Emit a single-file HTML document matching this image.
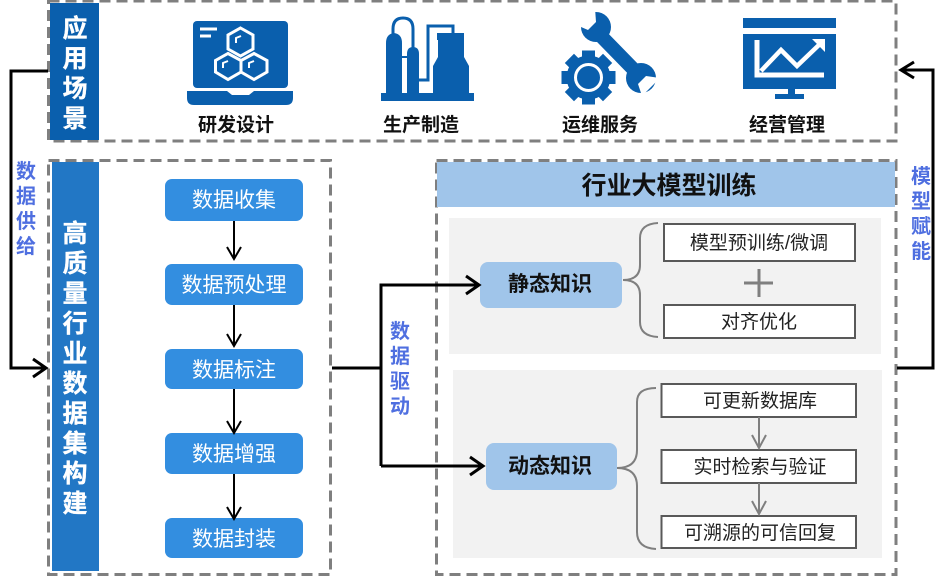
<!DOCTYPE html>
<html><head><meta charset="utf-8">
<style>
html,body{margin:0;padding:0;background:#fff;width:944px;height:577px;overflow:hidden}
svg{display:block}
text{font-family:"Liberation Sans","Noto Sans CJK SC",sans-serif;text-anchor:middle}
.b{font-weight:700}
.side{font-size:25px;font-weight:700;fill:#fff;stroke:#fff;stroke-width:.3}
.lab{font-size:20px;font-weight:700;fill:#4f6fe0}
.node{font-size:21px;fill:#fff}
.cap{font-size:19px;font-weight:700;fill:#111}
.item{font-size:19px;fill:#222}
.dash{fill:none;stroke:#7f7f7f;stroke-width:3;stroke-dasharray:11 6}
.box{fill:#fff;stroke:#595959;stroke-width:2}
.blk{fill:none;stroke:#000;stroke-width:3}
.gr{fill:none;stroke:#7f7f7f;stroke-width:2}
</style></head><body>
<svg width="944" height="577" viewBox="0 0 944 577" xmlns="http://www.w3.org/2000/svg">
<rect width="944" height="577" fill="#fff"/>

<!-- Top panel -->
<rect x="48.5" y="1" width="847.500" height="140" class="dash"/>
<rect x="50" y="3" width="49" height="137" fill="#0a5fad"/>
<g class="side">
<text x="75" y="37">应</text><text x="75" y="67">用</text><text x="75" y="97">场</text><text x="75" y="127">景</text>
</g>

<!-- Laptop icon -->
<g fill="#0a5fad">
<rect x="193" y="21" width="95" height="67" rx="4"/>
<path d="M187 91H227L232 95H249L254 91H293V98Q293 105 286 105H194Q187 105 187 98Z"/>
</g>
<g fill="none" stroke="#fff" stroke-width="3">
<path d="M200 29H217M200 36H211"/>
<path d="M240.500 28L253 35V49L240.500 56L228 49V35Z"/>
<path d="M228 53.500L241 60.500V72L228 79.500L215.500 72V60.500Z"/>
<path d="M254 53.500L267 60.500V72L254 79.500L241 72V60.500Z"/>
<path d="M236 43V38L241 36M223 68V63L228 61M249 68V63L254 61" stroke-width="2"/>
</g>

<!-- Plant icon -->
<g fill="#0a5fad">
<rect x="381" y="93" width="93" height="8"/>
<path d="M386 93V43Q386 34 394 33Q402 34 402 43V93Z"/>
<path d="M407 93V54Q407 47 413 47Q419 47 419 54V93Z"/>
<path d="M433 93V66L438 57V40H464V57L469 66V93Z"/>
<rect x="437" y="33" width="27" height="7"/>
</g>
<g fill="none" stroke="#0a5fad" stroke-width="3">
<path d="M393 34V29Q393 18 403 18Q413 18 413 29V48"/>
<path d="M419 80H428V26H453V34"/>
<path d="M402 57H407" stroke-width="2"/>
</g>

<!-- Wrench + gear icon -->
<path d="M600 35L640 76" fill="none" stroke="#0a5fad" stroke-width="14"/>
<circle cx="596" cy="27" r="15" fill="#0a5fad"/>
<circle cx="641" cy="78" r="15" fill="#0a5fad"/>
<path d="M595 8L574 24L588 30L596 22Z" fill="#fff"/>
<path d="M660 78L642 96L638 84L646 76Z" fill="#fff"/>
<g stroke="#0a5fad" stroke-width="13" fill="none">
<path d="M588.500 50.500V104.500M561.500 77.500H615.500M569.400 58.400L607.600 96.600M607.600 58.400L569.400 96.600"/>
</g>
<circle cx="588.500" cy="77.500" r="22" fill="#0a5fad"/>
<circle cx="588.500" cy="77.500" r="13" fill="#0a5fad" stroke="#fff" stroke-width="3"/>

<!-- Monitor icon -->
<g fill="#0a5fad">
<rect x="743" y="18" width="93" height="10"/>
<rect x="743" y="34" width="93" height="55"/>
<rect x="788" y="89" width="7" height="6"/>
<rect x="775" y="94" width="29" height="5"/>
</g>
<g fill="none" stroke="#fff" stroke-width="5">
<path d="M757 40V75H824"/>
<path d="M761 71L781 50L797 66L821 43" stroke-width="4.500"/>
</g>
<path d="M812 39H825V52Z" fill="#fff"/>

<g class="cap">
<text x="236" y="131">研发设计</text>
<text x="421" y="131">生产制造</text>
<text x="600" y="131">运维服务</text>
<text x="787" y="131">经营管理</text>
</g>

<!-- Left panel -->
<rect x="48.5" y="160.500" width="282" height="414" class="dash"/>
<rect x="52" y="162" width="47" height="409" fill="#2277c5"/>
<g class="side">
<text x="75" y="242">高</text><text x="75" y="272">质</text><text x="75" y="302">量</text><text x="75" y="332">行</text><text x="75" y="362">业</text><text x="75" y="392">数</text><text x="75" y="422">据</text><text x="75" y="452">集</text><text x="75" y="482">构</text><text x="75" y="512">建</text>
</g>
<g fill="#338ee0">
<rect x="165" y="179" width="138" height="42" rx="7"/>
<rect x="165" y="264" width="138" height="41" rx="7"/>
<rect x="165" y="349" width="138" height="40" rx="7"/>
<rect x="165" y="433" width="138" height="41" rx="7"/>
<rect x="165" y="518" width="138" height="40" rx="7"/>
</g>
<g class="node">
<text x="234" y="207">数据收集</text>
<text x="234" y="292">数据预处理</text>
<text x="234" y="377">数据标注</text>
<text x="234" y="461">数据增强</text>
<text x="234" y="546">数据封装</text>
</g>
<g fill="none" stroke="#000" stroke-width="2">
<path d="M234 221V258M227 247L234 259L241 247"/>
<path d="M234 305V345M227 334L234 346L241 334"/>
<path d="M234 389V432M227 421L234 433L241 421"/>
<path d="M234 474V518M227 507L234 519L241 507"/>
</g>

<!-- Right panel -->
<rect x="436.5" y="160.500" width="459.500" height="414" class="dash"/>
<rect x="437" y="162" width="458" height="45" fill="#a0c5ea"/>
<text x="669" y="194" font-size="25" class="b" fill="#111">行业大模型训练</text>
<rect x="449" y="218" width="432" height="136" fill="#f2f2f2"/>
<rect x="453" y="370" width="429" height="188" fill="#f2f2f2"/>

<rect x="480" y="262" width="142" height="46" rx="8" fill="#a0c5ea"/>
<rect x="486" y="443" width="131" height="47" rx="8" fill="#a0c5ea"/>
<text x="550" y="291" font-size="21" class="b" fill="#111">静态知识</text>
<text x="550" y="473" font-size="21" class="b" fill="#111">动态知识</text>

<path d="M658 223Q640 224 640 238V265Q640 280 623 280Q640 280 640 295V322Q640 336 658 337" class="gr"/>
<path d="M656 388Q637 388 637 402V450Q637 468 617 468Q637 468 637 486V532Q637 548 656 549" class="gr"/>

<rect x="664" y="224" width="191" height="37" class="box"/>
<rect x="664" y="305" width="191" height="33" class="box"/>
<path d="M759 269V297M744 283H773" fill="none" stroke="#7f7f7f" stroke-width="3"/>
<text x="759" y="249" class="item">模型预训练/微调</text>
<text x="759" y="328" class="item">对齐优化</text>

<rect x="661.500" y="384" width="194.500" height="33" class="box"/>
<rect x="661.500" y="450" width="194.500" height="33" class="box"/>
<rect x="661.500" y="516" width="194.500" height="32" class="box"/>
<g fill="none" stroke="#7f7f7f" stroke-width="2">
<path d="M759 417V448M752 435L759 448L766 435"/>
<path d="M759 483V514M752 501L759 514L766 501"/>
</g>
<text x="760" y="407" class="item">可更新数据库</text>
<text x="760" y="473" class="item">实时检索与验证</text>
<text x="760" y="539" class="item">可溯源的可信回复</text>

<!-- Connectors -->
<path d="M48 71H11V368H46M33 359L46 368L33 377" class="blk"/>
<path d="M332 368H381M381 466V285H479M466 276L479 285L466 294M381 466H483M470 457L483 466L470 475" class="blk"/>
<path d="M897 368H933V70H901M914 62L901 70L914 78" class="blk"/>

<g class="lab">
<text x="26" y="178">数</text><text x="26" y="203">据</text><text x="26" y="228">供</text><text x="26" y="253">给</text>
<text x="400" y="338">数</text><text x="400" y="363">据</text><text x="400" y="388">驱</text><text x="400" y="413">动</text>
<text x="921" y="183">模</text><text x="921" y="208">型</text><text x="921" y="233">赋</text><text x="921" y="258">能</text>
</g>
</svg>
</body></html>
